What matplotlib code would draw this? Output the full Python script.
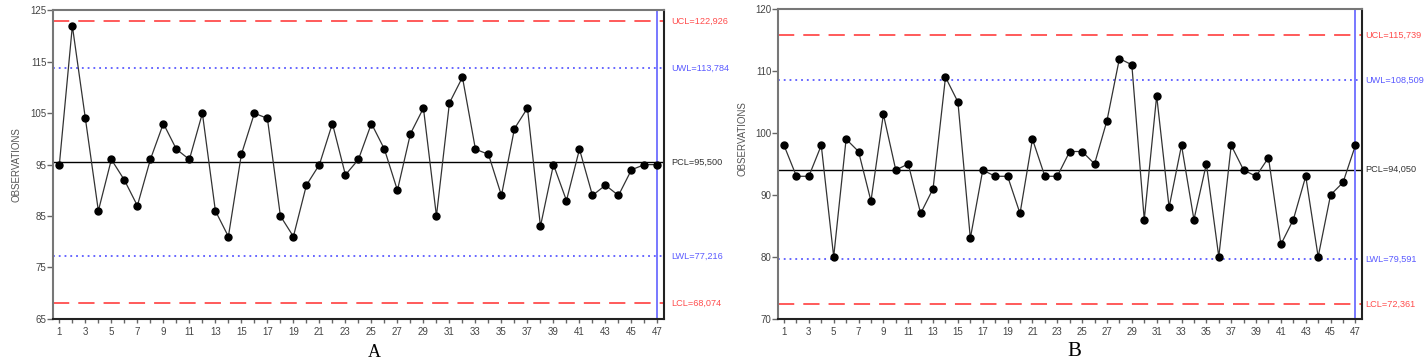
import numpy as np
import matplotlib
matplotlib.use("Agg")
import matplotlib.pyplot as plt

plt.rcParams['font.family'] = ['Liberation Sans Narrow', 'Liberation Sans', 'DejaVu Sans']

# observation numbers
obs = list(range(1, 48))

# chart A values
values_a = [95, 122, 104, 86, 96, 92, 87, 96, 103, 98, 96, 105, 86, 81, 97, 105, 104, 85, 81, 91,
            95, 103, 93, 96, 103, 98, 90, 101, 106, 85, 107, 112, 98, 97, 89, 102, 106, 83, 95, 88,
            98, 89, 91, 89, 94, 95, 95]
limits_a = {'UCL': 122.926, 'UWL': 113.784, 'PCL': 95.500, 'LWL': 77.216, 'LCL': 68.074}
yticks_a = [65, 75, 85, 95, 105, 115, 125]

# chart B values
values_b = [98, 93, 93, 98, 80, 99, 97, 89, 103, 94, 95, 87, 91, 109, 105, 83, 94, 93, 93, 87,
            99, 93, 93, 97, 97, 95, 102, 112, 111, 86, 106, 88, 98, 86, 95, 80, 98, 94, 93, 96,
            82, 86, 93, 80, 90, 92, 98]
limits_b = {'UCL': 115.739, 'UWL': 108.509, 'PCL': 94.050, 'LWL': 79.591, 'LCL': 72.361}
yticks_b = [70, 80, 90, 100, 110, 120]

red = '#ff4d4d'
blue = '#5a5aff'


def draw_chart(ax, vals, lim, yticks, ylabel_y, label_off):
    ax.set_xlim(0.54, 47.5)
    ax.set_ylim(yticks[0], yticks[-1])

    ax.axhline(lim['UCL'], color=red, lw=1.3, dashes=(9, 5))
    ax.axhline(lim['LCL'], color=red, lw=1.3, dashes=(9, 5))
    ax.axhline(lim['UWL'], color=blue, lw=1.3, dashes=(1, 2.2))
    ax.axhline(lim['LWL'], color=blue, lw=1.3, dashes=(1, 2.2))
    ax.axhline(lim['PCL'], color='black', lw=1.0)
    ax.axvline(obs[-1], color='#7878ff', lw=1.4)

    ax.plot(obs, vals, color='#333333', lw=0.9, marker='o', ms=5,
            markerfacecolor='black', markeredgecolor='black')

    ax.set_yticks(yticks)
    ax.set_xticks(obs)
    ax.set_xticklabels([str(i) if i % 2 == 1 else '' for i in obs])
    ax.tick_params(axis='both', direction='out', length=4, width=1, colors='#666666',
                   labelsize=7, labelcolor='#444444', pad=1)
    ax.tick_params(axis='x', length=3, pad=3)

    for side in ['left', 'top']:
        ax.spines[side].set_color('#777777')
        ax.spines[side].set_linewidth(1.5)
    for side in ['right', 'bottom']:
        ax.spines[side].set_color('#222222')
        ax.spines[side].set_linewidth(1.5)

    ax.set_ylabel('OBSERVATIONS', fontsize=7, color='#555555')
    ax.yaxis.set_label_coords(-0.053, ylabel_y)

    label_colors = {'UCL': red, 'UWL': blue, 'PCL': '#333333', 'LWL': blue, 'LCL': red}
    for key in ['UCL', 'UWL', 'PCL', 'LWL', 'LCL']:
        txt = '%s=%s' % (key, ('%.3f' % lim[key]).replace('.', ','))
        ax.annotate(txt, xy=(1.0, lim[key]), xycoords=('axes fraction', 'data'),
                    xytext=(label_off, 0), textcoords='offset pixels', va='center', ha='left',
                    fontsize=6.6, color=label_colors[key], annotation_clip=False)


fig = plt.figure(figsize=(14.27, 3.61), dpi=100)
ax_a = fig.add_axes([0.0374, 0.117, 0.4279, 0.854])
ax_b = fig.add_axes([0.5454, 0.117, 0.4088, 0.858])

draw_chart(ax_a, values_a, limits_a, yticks_a, 0.5, 7)
draw_chart(ax_b, values_b, limits_b, yticks_b, 0.583, 4)

# panel letters sit at the very bottom edge
fig.text(0.262, 0.0, 'A', fontsize=13, family=['Liberation Serif', 'DejaVu Serif'],
         ha='center', va='bottom')
fig.text(0.753, 0.0, 'B', fontsize=15, family=['Liberation Serif', 'DejaVu Serif'],
         ha='center', va='bottom')

fig.savefig('out.png', dpi=100)
